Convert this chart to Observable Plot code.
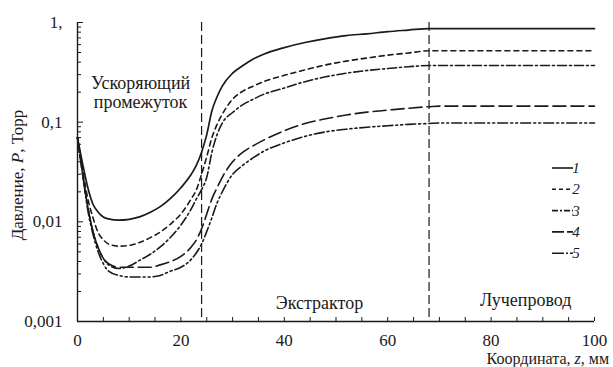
<!DOCTYPE html>
<html><head><meta charset="utf-8">
<script src="https://cdn.jsdelivr.net/npm/d3@7"></script>
<script src="https://cdn.jsdelivr.net/npm/@observablehq/plot@0.6"></script>
<style>body{margin:0;background:#fff} svg{display:block}</style>
</head><body><div id="chart"></div>
<script>
// Coordinate z, mm
const z  = [0, 1, 2, 3, 4, 5, 6, 8, 10, 12, 14, 16, 18, 20, 22, 23, 24, 25, 26, 27, 28, 30, 32, 34, 36, 40, 44, 48, 52, 56, 60, 64, 68, 70, 100];
// Pressure, Torr
const p1 = [0.07, 0.038, 0.022, 0.015, 0.0125, 0.0112, 0.0107, 0.0104, 0.0106, 0.0112, 0.0124, 0.0142, 0.0172, 0.022, 0.030, 0.037, 0.05, 0.075, 0.13, 0.18, 0.23, 0.31, 0.37, 0.43, 0.48, 0.56, 0.63, 0.69, 0.74, 0.77, 0.81, 0.84, 0.87, 0.87, 0.87];
const p2 = [0.07, 0.033, 0.017, 0.011, 0.0078, 0.0066, 0.006, 0.0057, 0.0058, 0.0062, 0.0069, 0.0079, 0.0095, 0.012, 0.017, 0.021, 0.03, 0.045, 0.07, 0.095, 0.12, 0.17, 0.205, 0.23, 0.255, 0.295, 0.335, 0.375, 0.41, 0.44, 0.47, 0.495, 0.52, 0.52, 0.52];
const p3 = [0.07, 0.03, 0.014, 0.008, 0.0055, 0.0043, 0.0037, 0.0034, 0.0036, 0.0041, 0.0047, 0.0056, 0.007, 0.0093, 0.0135, 0.017, 0.021, 0.028, 0.05, 0.075, 0.098, 0.125, 0.15, 0.17, 0.19, 0.22, 0.255, 0.285, 0.31, 0.33, 0.345, 0.36, 0.37, 0.37, 0.37];
const p4 = [0.07, 0.03, 0.014, 0.008, 0.0055, 0.0043, 0.0038, 0.0035, 0.0035, 0.0035, 0.0035, 0.0037, 0.004, 0.0045, 0.0056, 0.0066, 0.0085, 0.012, 0.017, 0.022, 0.028, 0.04, 0.05, 0.058, 0.066, 0.082, 0.097, 0.108, 0.118, 0.126, 0.132, 0.138, 0.143, 0.145, 0.145];
const p5 = [0.07, 0.03, 0.013, 0.0075, 0.005, 0.0038, 0.0032, 0.0029, 0.0028, 0.0028, 0.0028, 0.0029, 0.0032, 0.0035, 0.0042, 0.0049, 0.006, 0.008, 0.011, 0.0155, 0.02, 0.03, 0.037, 0.044, 0.051, 0.062, 0.072, 0.08, 0.085, 0.089, 0.092, 0.095, 0.097, 0.098, 0.098];

const seriesNames = ["1", "2", "3", "4", "5"];
const seriesValues = [p1, p2, p3, p4, p5];
const seriesDash = [null, "5,4", "9,3,2,3", "13,5", "10,3,2,3,2,3"];
const legendDash = [null, "4,3", "6,2,2,2", "12,3", "12,2,2,2"];

const yTickValues = [0.001, 0.01, 0.1, 1];
const yTickLabels = ["0,001", "0,01", "0,1", "1,"];
const xTickValues = [0, 20, 40, 60, 80, 100];
const xTickLabels = ["0", "20", "40", "60", "80", "100"];
const xMinorTicks = [5, 10, 15, 20, 25, 30, 35, 40, 45, 50, 55, 60, 65, 70, 75, 80, 85, 90, 95, 100];
const yMinorTicks = [];
for (const dec of [0.001, 0.01, 0.1]) for (let m = 2; m <= 9; m++) yMinorTicks.push(+(m * dec).toPrecision(3));

const boundaries = [24, 68];
const regionLabels = [
  {text: "Ускоряющий\nпромежуток", x: 12.2, y: 0.2},
  {text: "Экстрактор", x: 46.8, y: 0.00155},
  {text: "Лучепровод", x: 86.7, y: 0.00165}
];
const yLabelParts = [["Давление, ", false], ["P", true], [", Торр", false]];
const xLabelParts = [["Координата, ", false], ["z", true], [", мм", false]];

const W = 613, H = 367, ML = 77, MR = 19, MT = 22, MB = 46;
const innerW = W - ML - MR, innerH = H - MT - MB;
const ink = "#1a1a1a";
const font = "'Liberation Serif', Tinos, 'Times New Roman', Times, 'Noto Serif', 'DejaVu Serif', FreeSerif, serif";

const lineMarks = seriesValues.map((vals, k) =>
  Plot.line(z.map((x, i) => ({x, y: vals[i]})), {
    x: "x", y: "y", curve: "monotone-x",
    stroke: ink, strokeWidth: k === 0 ? 1.7 : 1.6,
    strokeDasharray: seriesDash[k] ?? undefined
  })
);

const chart = Plot.plot({
  width: W, height: H,
  marginLeft: ML, marginRight: MR, marginTop: MT, marginBottom: MB,
  style: {fontFamily: font, fontSize: "17px", color: ink, background: "#fff"},
  x: {domain: [0, 100]},
  y: {type: "log", domain: [0.001, 1]},
  marks: [
    Plot.ruleX(boundaries, {stroke: ink, strokeWidth: 1.2, strokeDasharray: "9,4"}),
    ...lineMarks,
    Plot.tickY(yMinorTicks, {y: d => d, stroke: ink, strokeWidth: 1, insetRight: innerW - 4}),
    Plot.tickY(yTickValues, {y: d => d, stroke: ink, strokeWidth: 1, insetRight: innerW - 6}),
    Plot.tickX(xMinorTicks, {x: d => d, stroke: ink, strokeWidth: 1, insetTop: innerH - 4}),
    Plot.ruleX([0], {stroke: ink, strokeWidth: 1.4}),
    Plot.ruleY([0.001], {stroke: ink, strokeWidth: 1.4}),
    Plot.axisY(yTickValues, {tickSize: 0, tickPadding: 15, fontSize: 17, label: null,
      tickFormat: d => yTickLabels[yTickValues.indexOf(d)]}),
    Plot.axisX(xTickValues, {tickSize: 0, tickPadding: 12, fontSize: 17, label: null,
      tickFormat: d => xTickLabels[xTickValues.indexOf(d)]}),
    Plot.text(regionLabels, {x: "x", y: "y", text: "text", fontSize: 18, lineHeight: 1.1, fill: ink})
  ]
});
document.getElementById("chart").appendChild(chart);

const svg = d3.select(chart);
function rich(g, parts) {
  parts.forEach(([t, it]) => g.append("tspan").attr("font-style", it ? "italic" : null).text(t));
}
const yl = svg.append("text").attr("transform", "translate(23,175) rotate(-90)")
  .attr("text-anchor", "middle").attr("font-family", font).attr("font-size", 17).attr("fill", ink);
rich(yl, yLabelParts);
const xl = svg.append("text").attr("x", 609).attr("y", 364)
  .attr("text-anchor", "end").attr("font-family", font).attr("font-size", 16).attr("fill", ink);
rich(xl, xLabelParts);

// legend
const lg = svg.append("g");
seriesNames.forEach((name, k) => {
  const yy = 168 + k * 21.3;
  lg.append("line").attr("x1", 552).attr("x2", 573).attr("y1", yy).attr("y2", yy)
    .attr("stroke", ink).attr("stroke-width", 1.6)
    .attr("stroke-dasharray", legendDash[k]);
  lg.append("text").attr("x", 576).attr("y", yy + 5).attr("font-family", font)
    .attr("font-size", 15).attr("font-style", "italic").attr("fill", ink).text(name);
});
</script>
</body></html>
